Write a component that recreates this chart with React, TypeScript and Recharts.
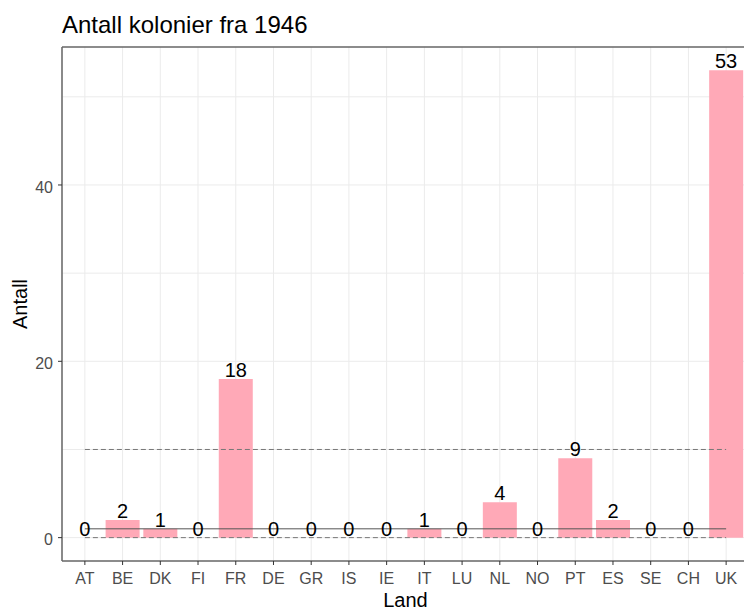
import { ComposedChart, Bar, Line, XAxis, YAxis, CartesianGrid, ReferenceLine, LabelList } from 'recharts';

const land = ['AT', 'BE', 'DK', 'FI', 'FR', 'DE', 'GR', 'IS', 'IE', 'IT', 'LU', 'NL', 'NO', 'PT', 'ES', 'SE', 'CH', 'UK'];
const antall = [0, 2, 1, 0, 18, 0, 0, 0, 0, 1, 0, 4, 0, 9, 2, 0, 0, 53];
const yTicks = [0, 20, 40];
const gridBreaks = [0, 10, 20, 30, 40, 50];
const dashedLevels = [0, 10];
const solidLevel = 1;

const data = land.map((l, i) => ({ land: l, antall: antall[i] }));

const yMin = -2.65;
const yMax = 55.65;
const first = land[0];
const last = land[land.length - 1];

export default function App() {
  return (
    <div
      style={{
        position: 'absolute',
        left: 0,
        top: 0,
        width: 744,
        height: 608,
        overflow: 'hidden',
        background: '#fff',
        fontFamily: '"Liberation Sans", Arial, sans-serif',
      }}
    >
      <svg width={744} height={608} style={{ position: 'absolute', left: 0, top: 0 }}>
        <text x={62} y={33} fontSize={24} fill="#000">
          Antall kolonier fra 1946
        </text>
        <text x={27} y={304} fontSize={20} fill="#000" textAnchor="middle" transform="rotate(-90, 27, 304)">
          Antall
        </text>
      </svg>
      <div style={{ position: 'absolute', left: 0, top: 0 }}>
        <ComposedChart
          width={752}
          height={608}
          data={data}
          margin={{ top: 47, right: 3, bottom: 0, left: 0 }}
          barCategoryGap="5%"
        >
          <CartesianGrid stroke="#EBEBEB" horizontalValues={gridBreaks} />
          <XAxis
            dataKey="land"
            interval={0}
            height={47}
            padding={{ left: 4, right: 4 }}
            tickSize={4}
            tickMargin={8}
            tick={{ fontSize: 16, fill: '#4D4D4D' }}
            tickLine={{ stroke: '#333' }}
            axisLine={{ stroke: '#666', strokeWidth: 1.5 }}
            label={{ value: 'Land', position: 'insideBottom', offset: 1, fontSize: 20, fill: '#000' }}
          />
          <YAxis
            width={62}
            type="number"
            domain={[yMin, yMax]}
            allowDataOverflow
            ticks={yTicks}
            tickSize={4}
            tickMargin={5}
            tick={{ fontSize: 16, fill: '#4D4D4D', dy: 2 }}
            tickLine={{ stroke: '#333' }}
            axisLine={{ stroke: '#666', strokeWidth: 1.5 }}
          />
          <ReferenceLine y={yMax} stroke="#666" strokeWidth={1.5} ifOverflow="visible" />
          <Bar dataKey="antall" fill="#FFA9B7" isAnimationActive={false} />
          {dashedLevels.map((lvl) => (
            <ReferenceLine
              key={lvl}
              segment={[{ x: first, y: lvl }, { x: last, y: lvl }]}
              stroke="#777"
              strokeDasharray="5 3"
            />
          ))}
          <ReferenceLine
            segment={[{ x: first, y: solidLevel }, { x: last, y: solidLevel }]}
            stroke="#555"
          />
          <Line dataKey="antall" stroke="none" dot={false} activeDot={false} isAnimationActive={false}>
            <LabelList dataKey="antall" position="top" offset={2} fontSize={20} fill="#000" />
          </Line>
        </ComposedChart>
      </div>
    </div>
  );
}
